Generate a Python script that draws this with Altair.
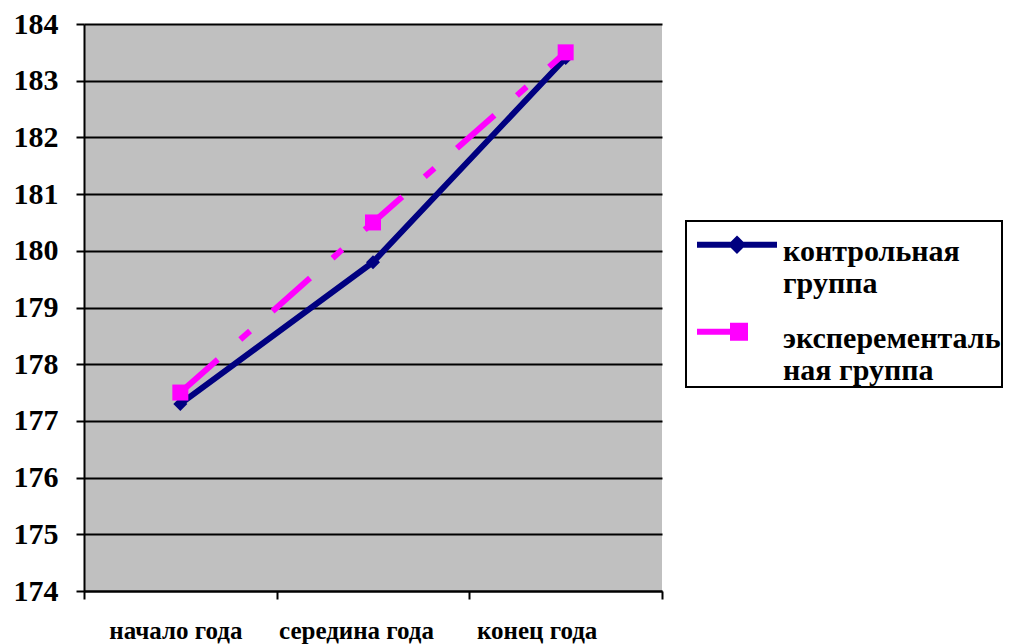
import altair as alt
import pandas as pd

# Chart values
periods = ["начало года", "середина года", "конец года"]
groups = ["контрольная группа", "эксперементальная группа"]
control = [177.3, 179.8, 183.4]
experimental = [177.5, 180.5, 183.5]
y_ticks = [174, 175, 176, 177, 178, 179, 180, 181, 182, 183, 184]
colors = ["#000080", "#FF00FF"]
legend_lines = [["контрольная", "группа"], ["эксперементаль", "ная группа"]]

FONT = "Liberation Serif"
CYR_FONT = "Liberation Serif, DejaVu Serif"

rows = []
for p, c, e in zip(periods, control, experimental):
    rows.append({"period": p, "group": groups[0], "value": c})
    rows.append({"period": p, "group": groups[1], "value": e})
df = pd.DataFrame(rows)

# Category labels sit slightly left of the band centres
label_shift = {"condition": [
    {"test": f"datum.value == '{periods[0]}'", "value": -5},
    {"test": f"datum.value == '{periods[1]}'", "value": -17},
], "value": -29}

x_enc = alt.X(
    "period:N",
    sort=periods,
    scale=alt.Scale(type="band", domain=periods, paddingInner=0, paddingOuter=0),
    axis=alt.Axis(
        title=None, labelAngle=0, labelFont=CYR_FONT, labelFontWeight="bold",
        labelFontSize=25, labelColor="black", labelPadding=19,
        labelOffset=label_shift,
        tickBand="extent", tickSize=8, tickColor="black", tickWidth=2,
        domainColor="black", domainWidth=2, grid=False,
    ),
)
y_enc = alt.Y(
    "value:Q",
    scale=alt.Scale(domain=[y_ticks[0], y_ticks[-1]], nice=False, zero=False),
    axis=alt.Axis(
        values=y_ticks, title=None, labelFont=FONT, labelFontWeight="bold",
        labelFontSize=30, labelColor="black", labelPadding=18,
        tickSize=8, tickColor="black", tickWidth=2,
        domainColor="black", domainWidth=2,
        grid=True, gridColor="black", gridWidth=2,
    ),
)


def series(i):
    return alt.Chart(df).transform_filter(alt.datum.group == groups[i])


ctrl_line = series(0).mark_line(
    color=colors[0], strokeWidth=6, strokeCap="butt"
).encode(x=x_enc, y=y_enc)
ctrl_pts = series(0).mark_point(
    shape="diamond", filled=True, size=196, opacity=1, color=colors[0]
).encode(x=x_enc, y=y_enc)
exp_line = series(1).mark_line(
    color=colors[1], strokeWidth=6, strokeCap="butt", strokeDash=[50, 30, 13, 30]
).encode(x=x_enc, y=y_enc)
exp_pts = series(1).mark_point(
    shape="square", filled=True, size=256, opacity=1, color=colors[1]
).encode(x=x_enc, y=y_enc)

# Legend symbols: a line with the series marker in its middle
# (path units are 5 px with symbolSize=100)
d = 1.54
ctrl_sym = f"M-8,{d}H8M0,{d-1:.2f}L1,{d}L0,{d+1:.2f}L-1,{d}Z"
exp_sym = f"M-8,{d}H-0.8M-0.8,{d-1.2:.2f}H1.6V{d+1.2:.2f}H-0.8Z"

label_expr = " : ".join(
    f"datum.label == '{g}' ? ['{l[0]}', '{l[1]}']" for g, l in zip(groups, legend_lines)
) + " : datum.label"

legend = alt.Legend(
    title=None, orient="none", legendX=602, legendY=197, direction="vertical",
    fillColor="white", strokeColor="black", padding=1, rowPadding=10,
    labelFont=CYR_FONT, labelFontWeight="bold", labelFontSize=30, labelColor="black",
    labelLimit=500, labelOffset=31, labelBaseline="top", labelExpr=label_expr,
    symbolSize=100, symbolOffset=35, symbolStrokeWidth=6, symbolOpacity=1,
)

# Invisible layer that carries the legend
legend_layer = alt.Chart(df).mark_point(filled=True, opacity=0).encode(
    x=x_enc,
    y=y_enc,
    fill=alt.Fill("group:N", scale=alt.Scale(domain=groups, range=colors), legend=legend),
    stroke=alt.Stroke("group:N", scale=alt.Scale(domain=groups, range=colors), legend=legend),
    shape=alt.Shape("group:N", scale=alt.Scale(domain=groups, range=[ctrl_sym, exp_sym]), legend=legend),
)

chart = alt.layer(ctrl_line, ctrl_pts, exp_line, exp_pts, legend_layer).properties(
    width=578,
    height=567,
    autosize=alt.AutoSizeParams(type="none"),
    padding={"left": 84, "top": 24, "right": 355, "bottom": 53},
    background="white",
).configure_view(
    fill="#C0C0C0", strokeWidth=0,
).configure_legend(
    strokeWidth=2,
)

chart.save("out.html", embed_options={"renderer": "svg", "actions": False})
